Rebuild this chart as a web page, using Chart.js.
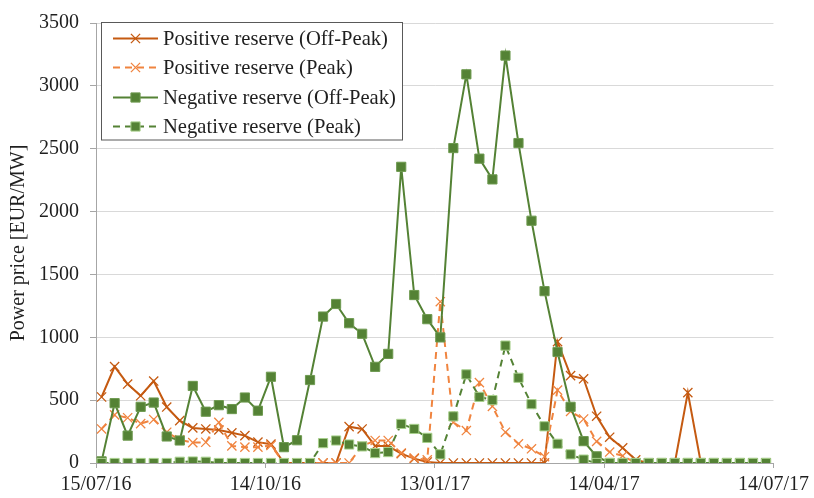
<!DOCTYPE html>
<html><head><meta charset="utf-8">
<script src="https://cdn.jsdelivr.net/npm/chart.js@4.4.1/dist/chart.umd.min.js"></script>
<style>html,body{margin:0;padding:0;background:#fff}#wrap{width:814px;height:498px;position:relative}</style>
</head><body><div id="wrap"><canvas id="c" width="814" height="498"></canvas></div>
<script>
// Weekly dates (dd/mm/yy)
const weeks = ['18/07/16','25/07/16','01/08/16','08/08/16','15/08/16','22/08/16','29/08/16','05/09/16','12/09/16','19/09/16','26/09/16','03/10/16','10/10/16','17/10/16','24/10/16','31/10/16','07/11/16','14/11/16','21/11/16','28/11/16','05/12/16','12/12/16','19/12/16','26/12/16','02/01/17','09/01/17','16/01/17','23/01/17','30/01/17','06/02/17','13/02/17','20/02/17','27/02/17','06/03/17','13/03/17','20/03/17','27/03/17','03/04/17','10/04/17','17/04/17','24/04/17','01/05/17','08/05/17','15/05/17','22/05/17','29/05/17','05/06/17','12/06/17','19/06/17','26/06/17','03/07/17','10/07/17'];

const posOffPeak = [525,767,628,535,652,445,337,279,271,263,240,218,166,150,0,0,0,0,0,289,271,135,135,74,35,8,0,0,0,0,0,0,0,0,0,965,695,670,372,205,120,25,0,0,0,560,0,0,0,0,0,0];
const posPeak = [271,383,360,313,346,245,185,162,165,323,136,126,126,140,0,0,0,0,0,0,135,179,179,80,40,25,1283,323,258,639,450,245,153,113,50,580,410,350,172,87,57,0,0,0,0,0,0,0,0,0,0,0];
const negOffPeak = [13,476,218,447,481,211,179,613,408,460,429,521,416,686,126,181,660,1165,1265,1112,1028,765,868,2356,1336,1144,999,2505,3092,2421,2256,3241,2545,1927,1367,883,447,174,53,0,0,0,0,0,0,0,0,0,0,0,0,0];
const negPeak = [0,0,0,0,0,0,10,12,10,0,0,0,0,0,0,0,0,158,179,147,132,79,87,311,271,200,69,371,705,526,500,934,678,468,292,153,69,27,0,0,0,0,0,0,0,0,0,0,0,0,0,0];

const seriesNames = ['Positive reserve (Off-Peak)','Positive reserve (Peak)','Negative reserve (Off-Peak)','Negative reserve (Peak)'];
const tickLabels = ['15/07/16','14/10/16','13/01/17','14/04/17','14/07/17'];
const yTitle = 'Power price [EUR/MW]';

const toDay = s => { const [d,m,y] = s.split('/').map(Number); return (Date.UTC(2000+y, m-1, d) - Date.UTC(2016,6,15)) / 86400000; };
const tickDays = tickLabels.map(toDay);
const pts = arr => arr.map((v,i) => ({x: toDay(weeks[i]), y: v}));

const FAMILY = "'Liberation Serif', 'Times New Roman', serif";
const FONT = {family: FAMILY, size: 20};
const TXT = '#1f1f1f';

const datasets = [
  {label: seriesNames[0], data: pts(posOffPeak), borderColor:'#C55A11', backgroundColor:'#C55A11', borderWidth:2, pointStyle:'crossRot', pointRadius:6.5, pointBorderWidth:1.3, pointBorderColor:'#C55A11', order:4},
  {label: seriesNames[1], data: pts(posPeak), borderColor:'#F0843F', backgroundColor:'#F0843F', borderWidth:2, borderDash:[7,5], pointStyle:'crossRot', pointRadius:6.5, pointBorderWidth:1.3, pointBorderColor:'#F0843F', order:3},
  {label: seriesNames[2], data: pts(negOffPeak), borderColor:'#548235', backgroundColor:'#548235', borderWidth:2, pointStyle:'rect', pointRadius:6.5, pointBorderWidth:1, pointBorderColor:'#6E9A50', order:2},
  {label: seriesNames[3], data: pts(negPeak), borderColor:'#548235', backgroundColor:'#548235', borderWidth:2, borderDash:[7,5], pointStyle:'rect', pointRadius:6.5, pointBorderWidth:1, pointBorderColor:'#A9D18E', order:1}
];

const legendPlugin = {
  id: 'boxLegend',
  afterDatasetsDraw(chart) {
    const ctx = chart.ctx;
    const bx = 101.5, by = 22.5, bw = 301, bh = 117.5;
    ctx.save();
    ctx.fillStyle = '#fff';
    ctx.fillRect(bx, by, bw, bh);
    ctx.strokeStyle = '#595959';
    ctx.lineWidth = 1;
    ctx.strokeRect(bx, by, bw, bh);
    const rows = [38.5, 67.5, 97.5, 126.5];
    [0,1,2,3].forEach((di, r) => {
      const ds = chart.data.datasets[di];
      const y = rows[r];
      ctx.save();
      ctx.strokeStyle = ds.borderColor;
      ctx.lineWidth = ds.borderWidth;
      ctx.setLineDash(ds.borderDash || []);
      ctx.beginPath(); ctx.moveTo(113, y); ctx.lineTo(158, y); ctx.stroke();
      ctx.setLineDash([]);
      ctx.fillStyle = ds.backgroundColor;
      ctx.strokeStyle = ds.pointBorderColor;
      ctx.lineWidth = ds.pointBorderWidth;
      Chart.helpers.drawPoint(ctx, {pointStyle: ds.pointStyle, rotation: 0, radius: ds.pointRadius, borderWidth: ds.pointBorderWidth}, 135.5, y);
      ctx.restore();
      ctx.fillStyle = TXT;
      ctx.font = `20.6px ${FAMILY}`;
      ctx.textBaseline = 'middle';
      ctx.textAlign = 'left';
      ctx.fillText(ds.label, 163, y + 1);
    });
    ctx.restore();
  }
};

new Chart(document.getElementById('c'), {
  type: 'line',
  data: {datasets},
  options: {
    responsive: false,
    animation: false,
    devicePixelRatio: 1,
    layout: {padding: {left: 0, top: 19, right: 38, bottom: 0}},
    plugins: {legend: {display: false}, tooltip: {enabled: false}},
    elements: {line: {tension: 0}},
    scales: {
      x: {
        type: 'linear', min: 0, max: 364,
        afterBuildTicks: s => { s.ticks = tickDays.map(v => ({value: v})); },
        afterFit: s => { s.height = 35; },
        ticks: {autoSkip: false, maxRotation: 0, minRotation: 0, font: FONT, color: TXT, padding: 5,
          callback: (v, i) => tickLabels[i]},
        grid: {drawOnChartArea: false, drawTicks: true, tickLength: 5, tickColor: '#A6A6A6'},
        border: {display: true, color: '#A6A6A6'}
      },
      y: {
        min: 0, max: 3500,
        afterFit: s => { s.width = 96; },
        ticks: {stepSize: 500, font: FONT, color: TXT, padding: 11, callback: v => String(v)},
        grid: {color: '#D9D9D9', tickColor: '#A6A6A6', tickLength: 6},
        border: {display: true, color: '#A6A6A6'},
        title: {display: true, text: yTitle, font: FONT, color: TXT, padding: {top: 7, bottom: 0}}
      }
    }
  },
  plugins: [legendPlugin]
});
</script>
</body></html>
